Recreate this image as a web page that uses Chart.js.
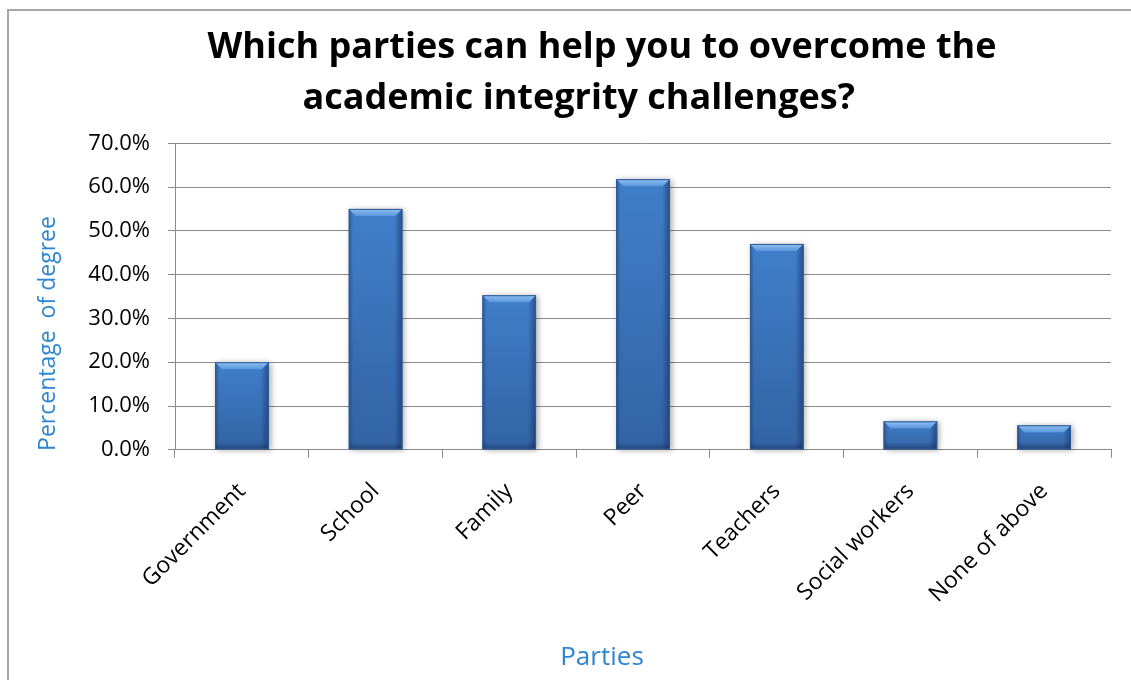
<!DOCTYPE html>
<html>
<head>
<meta charset="utf-8">
<title>Which parties can help you to overcome the academic integrity challenges?</title>
<script src="https://cdn.jsdelivr.net/npm/chart.js@4.4.1/dist/chart.umd.min.js"></script>
<style>
  html, body { margin: 0; padding: 0; background: #fff; overflow: hidden; }
  #frame {
    position: absolute;
    left: 7px;
    top: 9px;
    width: 1220px;
    height: 720px;
    border: 2px solid #a6a6a6;
    box-sizing: border-box;
  }
  #chart { display: block; }
</style>
</head>
<body>
<div id="frame">
  <canvas id="chart" width="1186" height="669"></canvas>
</div>
<script>
const parties = ["Government", "School", "Family", "Peer", "Teachers", "Social workers", "None of above"];
const percentages = [20.0, 55.0, 35.3, 61.8, 47.0, 6.5, 5.6];
const yTicks = [0, 10, 20, 30, 40, 50, 60, 70];

const gridGray = "#8a8a8a";
const titleBlue = "#2e86d0";

// bevelled look on top of each plain bar
const bevelBars = {
  id: "bevelBars",
  afterDatasetsDraw(chart) {
    const ctx = chart.ctx;
    chart.getDatasetMeta(0).data.forEach((bar) => {
      const { x, y, base, width } = bar.getProps(["x", "y", "base", "width"], true);
      const l = x - width / 2, r = x + width / 2, t = y, b = base;
      const bev = Math.min(7, (b - t) / 2);
      ctx.save();

      // body with soft shadow
      ctx.shadowColor = "rgba(0,0,0,0.35)";
      ctx.shadowBlur = 6;
      ctx.shadowOffsetX = 2;
      ctx.shadowOffsetY = 1;
      const body = ctx.createLinearGradient(0, t, 0, b);
      body.addColorStop(0, "#4383d0");
      body.addColorStop(1, "#3466a8");
      ctx.fillStyle = body;
      ctx.fillRect(l, t, width, b - t);
      ctx.shadowColor = "transparent";

      // darker side edges
      const side = ctx.createLinearGradient(l, 0, r, 0);
      side.addColorStop(0, "rgba(20,45,90,0.45)");
      side.addColorStop(0.08, "rgba(20,45,90,0.05)");
      side.addColorStop(0.85, "rgba(20,45,90,0.05)");
      side.addColorStop(1, "rgba(15,35,75,0.55)");
      ctx.fillStyle = side;
      ctx.fillRect(l, t, width, b - t);

      // bottom edge
      const bottom = ctx.createLinearGradient(0, b - bev, 0, b);
      bottom.addColorStop(0, "rgba(15,35,75,0)");
      bottom.addColorStop(1, "rgba(15,35,75,0.45)");
      ctx.fillStyle = bottom;
      ctx.fillRect(l, b - bev, width, bev);

      // light top bevel
      const top = ctx.createLinearGradient(0, t, 0, t + bev);
      top.addColorStop(0, "#8fc0f2");
      top.addColorStop(1, "#5a97de");
      ctx.fillStyle = top;
      ctx.beginPath();
      ctx.moveTo(l, t);
      ctx.lineTo(r, t);
      ctx.lineTo(r - bev, t + bev);
      ctx.lineTo(l + bev, t + bev);
      ctx.closePath();
      ctx.fill();

      ctx.strokeStyle = "#2c5a92";
      ctx.lineWidth = 1;
      ctx.strokeRect(l + 0.5, t + 0.5, width - 1, b - t - 1);
      ctx.restore();
    });
  },
};

// vertical axis caption
const yCaption = {
  id: "yCaption",
  afterDraw(chart) {
    const ctx = chart.ctx;
    const area = chart.chartArea;
    ctx.save();
    ctx.translate(39, (area.top + area.bottom) / 2 + 37);
    ctx.rotate(-Math.PI / 2);
    ctx.font = "23px 'Open Sans'";
    ctx.fillStyle = titleBlue;
    ctx.textAlign = "center";
    ctx.textBaseline = "middle";
    ctx.fillText("Percentage  of degree", 0, 0);
    ctx.restore();
  },
};

new Chart(document.getElementById("chart"), {
  type: "bar",
  data: {
    labels: parties,
    datasets: [
      {
        label: "Percentage of degree",
        data: percentages,
        backgroundColor: "#3b76c0",
        borderWidth: 0,
        categoryPercentage: 1,
        barPercentage: 0.4,
      },
    ],
  },
  options: {
    responsive: false,
    animation: false,
    layout: { padding: 0 },
    plugins: {
      legend: { display: false },
      tooltip: { enabled: false },
      title: {
        display: true,
        // second line keeps its trailing spaces, so it sits a little left
        text: ["Which parties can help you to overcome the", "academic integrity challenges?     "],
        color: "#000",
        font: { family: "'Open Sans'", size: 36, weight: "bold", lineHeight: 1.42 },
        padding: { top: 11, bottom: 19 },
      },
      subtitle: {
        display: true,
        position: "bottom",
        text: "Parties",
        color: titleBlue,
        font: { family: "'Open Sans'", size: 26, lineHeight: 1.2 },
        padding: { top: 0, bottom: 7 },
      },
    },
    scales: {
      x: {
        grid: { display: true, offset: true, drawOnChartArea: false, drawTicks: true, tickLength: 8, color: gridGray },
        border: { color: gridGray, width: 1 },
        ticks: {
          color: "#000",
          font: { family: "'Open Sans'", size: 23 },
          minRotation: 45,
          maxRotation: 45,
          padding: 20,
        },
        afterFit(scale) { scale.height = 192; },
      },
      y: {
        min: 0,
        max: 70,
        afterBuildTicks(scale) { scale.ticks = yTicks.map((v) => ({ value: v })); },
        grid: { color: gridGray, tickLength: 7, lineWidth: 1 },
        border: { color: gridGray, width: 1 },
        ticks: {
          color: "#000",
          font: { family: "'Open Sans'", size: 22 },
          padding: 18,
          callback: (v) => v.toFixed(1) + "%",
        },
        afterFit(scale) { scale.width = 166; },
      },
      // empty right-hand box keeps the plot clear of the frame's far edge
      yRight: {
        position: "right",
        display: true,
        grid: { display: false },
        border: { display: false },
        ticks: { display: false },
        afterFit(scale) { scale.width = 84; },
      },
    },
  },
  plugins: [bevelBars, yCaption],
});
</script>
</body>
</html>
